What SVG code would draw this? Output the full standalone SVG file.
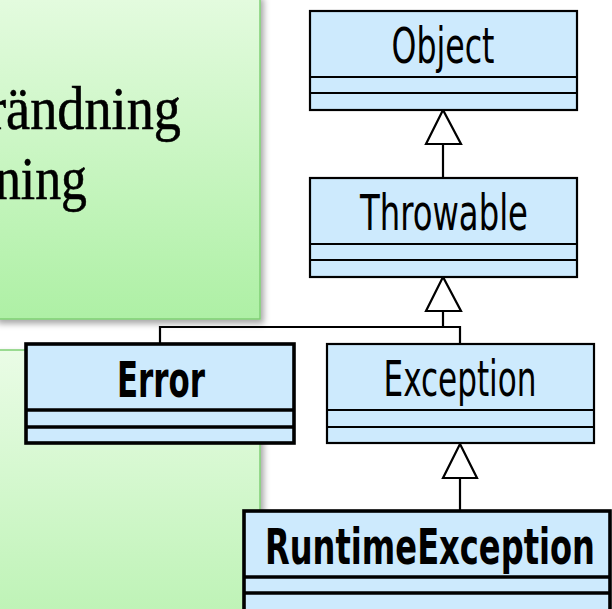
<svg xmlns="http://www.w3.org/2000/svg" width="612" height="609" viewBox="0 0 612 609">
<defs>
<linearGradient id="g1" x1="0" y1="0" x2="0" y2="1">
<stop offset="0" stop-color="#e4fbdf"/>
<stop offset="1" stop-color="#aef0a5"/>
</linearGradient>
<linearGradient id="g2" x1="0" y1="0" x2="0" y2="1">
<stop offset="0" stop-color="#eafce6"/>
<stop offset="1" stop-color="#bdf3b5"/>
</linearGradient>
<filter id="sh" x="-10%" y="-10%" width="130%" height="130%">
<feDropShadow dx="3" dy="4" stdDeviation="3" flood-color="#000" flood-opacity="0.35"/>
</filter>
</defs>
<style>
.panel{stroke:#7fcf74;stroke-width:1.5}
.box{fill:#cdeafd;stroke:#000;stroke-width:2.2}
.bold{stroke-width:3.6}
.div{stroke:#000;stroke-width:2.2}
.divb{stroke:#000;stroke-width:3.6}
.name{font-family:"DejaVu Sans Condensed","Liberation Sans",sans-serif;font-size:50px;text-anchor:middle;fill:#000}
.nb{font-weight:bold}
.serif{font-family:"Liberation Serif","DejaVu Serif",serif;font-size:61px;fill:#000;stroke:#000;stroke-width:0.6}
.conn{stroke:#000;stroke-width:2.2;fill:none}
.tri{fill:#fff;stroke:#000;stroke-width:2.2}
</style>
<rect width="612" height="609" fill="#fff"/>
<g id="panel2">
<rect class="panel" x="-5" y="350" width="265" height="270" fill="url(#g2)" filter="url(#sh)"/>
</g>
<g id="panel1">
<rect class="panel" x="-5" y="-5" width="265" height="324" fill="url(#g1)" filter="url(#sh)"/>
<text class="serif" x="181" y="129" text-anchor="end" textLength="193" lengthAdjust="spacingAndGlyphs">rändning</text>
<text class="serif" x="87" y="199" text-anchor="end" textLength="92" lengthAdjust="spacingAndGlyphs">ning</text>
</g>
<g id="connectors">
<polygon class="tri" points="443,110 426,144 461,144"/>
<line class="conn" x1="443" y1="144" x2="443" y2="178"/>
<polygon class="tri" points="443,277 426,311 461,311"/>
<line class="conn" x1="443" y1="311" x2="443" y2="327"/>
<polyline class="conn" points="160,344 160,327 460,327 460,344"/>
<polygon class="tri" points="460,444 443,478 477,478"/>
<line class="conn" x1="460" y1="478" x2="460" y2="511"/>
</g>
<g id="Object">
<rect class="box" x="310" y="11" width="267" height="99"/>
<line class="div" x1="310" y1="77" x2="577" y2="77"/>
<line class="div" x1="310" y1="93" x2="577" y2="93"/>
<text class="name" x="443" y="63" textLength="103" lengthAdjust="spacingAndGlyphs">Object</text>
</g>
<g id="Throwable">
<rect class="box" x="310" y="178" width="267" height="99"/>
<line class="div" x1="310" y1="244" x2="577" y2="244"/>
<line class="div" x1="310" y1="260" x2="577" y2="260"/>
<text class="name" x="444" y="230" textLength="168" lengthAdjust="spacingAndGlyphs">Throwable</text>
</g>
<g id="Error">
<rect class="box bold" x="26" y="344" width="268" height="99"/>
<line class="divb" x1="26" y1="410" x2="294" y2="410"/>
<line class="divb" x1="26" y1="427" x2="294" y2="427"/>
<text class="name nb" x="161" y="397" textLength="88" lengthAdjust="spacingAndGlyphs">Error</text>
</g>
<g id="Exception">
<rect class="box" x="327" y="344" width="267" height="99"/>
<line class="div" x1="327" y1="410" x2="594" y2="410"/>
<line class="div" x1="327" y1="427" x2="594" y2="427"/>
<text class="name" x="460" y="396" textLength="153" lengthAdjust="spacingAndGlyphs">Exception</text>
</g>
<g id="RuntimeException">
<rect class="box bold" x="244" y="511" width="366" height="110"/>
<line class="divb" x1="244" y1="577" x2="610" y2="577"/>
<line class="divb" x1="244" y1="593" x2="610" y2="593"/>
<text class="name nb" x="430" y="564" textLength="330" lengthAdjust="spacingAndGlyphs">RuntimeException</text>
</g>
</svg>
